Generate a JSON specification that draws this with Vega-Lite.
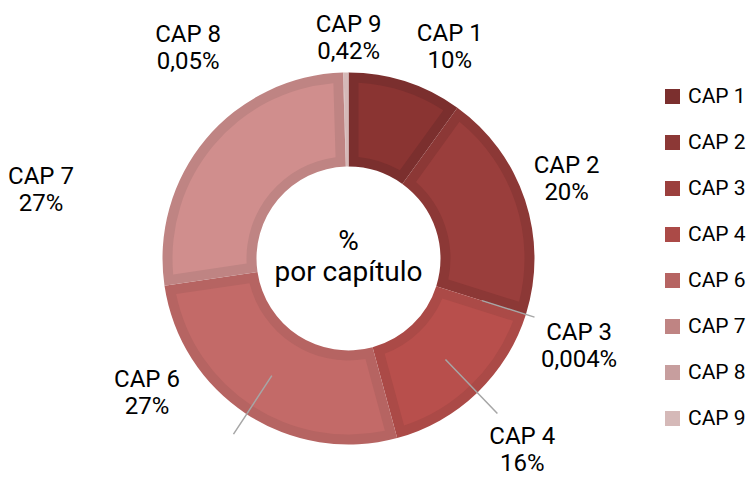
{
  "$schema": "https://vega.github.io/schema/vega-lite/v6.json",
  "width": 697,
  "height": 437,
  "autosize": {"type": "none"},
  "padding": {"left": 0, "right": 50, "top": 40, "bottom": 0},
  "background": "white",
  "config": {"view": {"stroke": null}, "font": "Roboto"},
  "data": {
    "values": [
      {"cap": "CAP 1", "value": 10, "label": "CAP 1\n10%"},
      {"cap": "CAP 2", "value": 20, "label": "CAP 2\n20%"},
      {"cap": "CAP 3", "value": 0.004, "label": "CAP 3\n0,004%"},
      {"cap": "CAP 4", "value": 16, "label": "CAP 4\n16%"},
      {"cap": "CAP 6", "value": 27, "label": "CAP 6\n27%"},
      {"cap": "CAP 7", "value": 27, "label": "CAP 7\n27%"},
      {"cap": "CAP 8", "value": 0.05, "label": "CAP 8\n0,05%"},
      {"cap": "CAP 9", "value": 0.42, "label": "CAP 9\n0,42%"}
    ]
  },
  "encoding": {
    "theta": {"field": "value", "type": "quantitative", "stack": true}
  },
  "layer": [
    {
      "mark": {"type": "arc", "outerRadius": 186, "innerRadius": 92},
      "encoding": {
        "color": {
          "field": "cap", "type": "nominal",
          "scale": {
            "domain": ["CAP 1", "CAP 2", "CAP 3", "CAP 4", "CAP 6", "CAP 7", "CAP 8", "CAP 9"],
            "range": ["#7b2f2e", "#8c3836", "#9b3f3d", "#ab4a47", "#b66462", "#bf8483", "#c79e9e", "#d5b9b8"]
          },
          "legend": {
            "title": null, "orient": "none", "legendX": 662, "legendY": 46,
            "padding": 0, "symbolType": "square", "symbolSize": 225, "symbolStrokeWidth": 0,
            "labelFontSize": 21, "labelFont": "Roboto", "labelColor": "#000000",
            "labelOffset": 5, "rowPadding": 24
          }
        }
      }
    },
    {
      "mark": {"type": "arc", "outerRadius": 176, "innerRadius": 102, "padAngle": 0.098},
      "encoding": {
        "fill": {
          "field": "cap", "type": "nominal",
          "scale": {
            "domain": ["CAP 1", "CAP 2", "CAP 3", "CAP 4", "CAP 6", "CAP 7", "CAP 8", "CAP 9"],
            "range": ["#8a3432", "#9a3e3c", "#a8443f", "#b84f4c", "#c36a68", "#d08e8d", "#d6aaa9", "#e1c6c5"]
          },
          "legend": null
        }
      }
    },
    {
      "mark": {"type": "arc", "innerRadius": 140, "outerRadius": 195, "padAngle": 0.5, "fillOpacity": 0, "stroke": "#a6a6a6", "strokeWidth": 1.5},
      "encoding": {"detail": {"field": "cap"}, "strokeOpacity": {"condition": {"test": "datum.cap === 'CAP 3'", "value": 1}, "value": 0}}
    },
    {
      "mark": {"type": "arc", "innerRadius": 140, "outerRadius": 215, "padAngle": 0.979, "fillOpacity": 0, "stroke": "#a6a6a6", "strokeWidth": 1.5},
      "encoding": {"detail": {"field": "cap"}, "strokeOpacity": {"condition": {"test": "datum.cap === 'CAP 4'", "value": 1}, "value": 0}}
    },
    {
      "mark": {"type": "arc", "innerRadius": 140, "outerRadius": 185, "padAngle": 1.287, "fillOpacity": 0, "stroke": "#a6a6a6", "strokeWidth": 1.5},
      "encoding": {"detail": {"field": "cap"}, "strokeOpacity": {"condition": {"test": "datum.cap === 'CAP 6'", "value": 1}, "value": 0}}
    },
    {
      "mark": {"type": "arc", "innerRadius": 185, "outerRadius": 210, "padAngle": 1.312, "fillOpacity": 0, "stroke": "#a6a6a6", "strokeWidth": 1.5},
      "encoding": {"detail": {"field": "cap"}, "strokeOpacity": {"condition": {"test": "datum.cap === 'CAP 6'", "value": 1}, "value": 0}}
    },
    {
      "mark": {"type": "text", "radius": 235, "dx": 29, "dy": -1, "fontSize": 24, "lineBreak": "\n", "color": "#000000", "lineHeight": 27},
      "encoding": {"detail": {"field": "cap"}, "text": {"condition": {"test": "datum.cap === 'CAP 1'", "field": "label"}, "value": ""}}
    },
    {
      "mark": {"type": "text", "radius": 233, "dx": -3, "dy": -19, "fontSize": 24, "lineBreak": "\n", "color": "#000000", "lineHeight": 27},
      "encoding": {"detail": {"field": "cap"}, "text": {"condition": {"test": "datum.cap === 'CAP 2'", "field": "label"}, "value": ""}}
    },
    {
      "mark": {"type": "text", "radius": 247, "dx": -5, "dy": 0, "fontSize": 24, "lineBreak": "\n", "color": "#000000", "lineHeight": 27},
      "encoding": {"detail": {"field": "cap"}, "text": {"condition": {"test": "datum.cap === 'CAP 3'", "field": "label"}, "value": ""}}
    },
    {
      "mark": {"type": "text", "radius": 261, "dx": -7, "dy": -10, "fontSize": 24, "lineBreak": "\n", "color": "#000000", "lineHeight": 27},
      "encoding": {"detail": {"field": "cap"}, "text": {"condition": {"test": "datum.cap === 'CAP 4'", "field": "label"}, "value": ""}}
    },
    {
      "mark": {"type": "text", "radius": 242, "dx": -69, "dy": -81, "fontSize": 24, "lineBreak": "\n", "color": "#000000", "lineHeight": 27},
      "encoding": {"detail": {"field": "cap"}, "text": {"condition": {"test": "datum.cap === 'CAP 6'", "field": "label"}, "value": ""}}
    },
    {
      "mark": {"type": "text", "radius": 315, "dx": -66, "dy": 121, "fontSize": 24, "lineBreak": "\n", "color": "#000000", "lineHeight": 27},
      "encoding": {"detail": {"field": "cap"}, "text": {"condition": {"test": "datum.cap === 'CAP 7'", "field": "label"}, "value": ""}}
    },
    {
      "mark": {"type": "text", "radius": 265, "dx": -153, "dy": 41, "fontSize": 24, "lineBreak": "\n", "color": "#000000", "lineHeight": 27},
      "encoding": {"detail": {"field": "cap"}, "text": {"condition": {"test": "datum.cap === 'CAP 8'", "field": "label"}, "value": ""}}
    },
    {
      "mark": {"type": "text", "radius": 221, "dx": 3, "dy": -13, "fontSize": 24, "lineBreak": "\n", "color": "#000000", "lineHeight": 27},
      "encoding": {"detail": {"field": "cap"}, "text": {"condition": {"test": "datum.cap === 'CAP 9'", "field": "label"}, "value": ""}}
    },
    {
      "data": {"values": [{"t": "%\npor capítulo"}]},
      "mark": {"type": "text", "fontSize": 28, "lineBreak": "\n", "color": "#000000", "lineHeight": 31, "dy": -17},
      "encoding": {"theta": null, "text": {"field": "t"}}
    }
  ]
}
